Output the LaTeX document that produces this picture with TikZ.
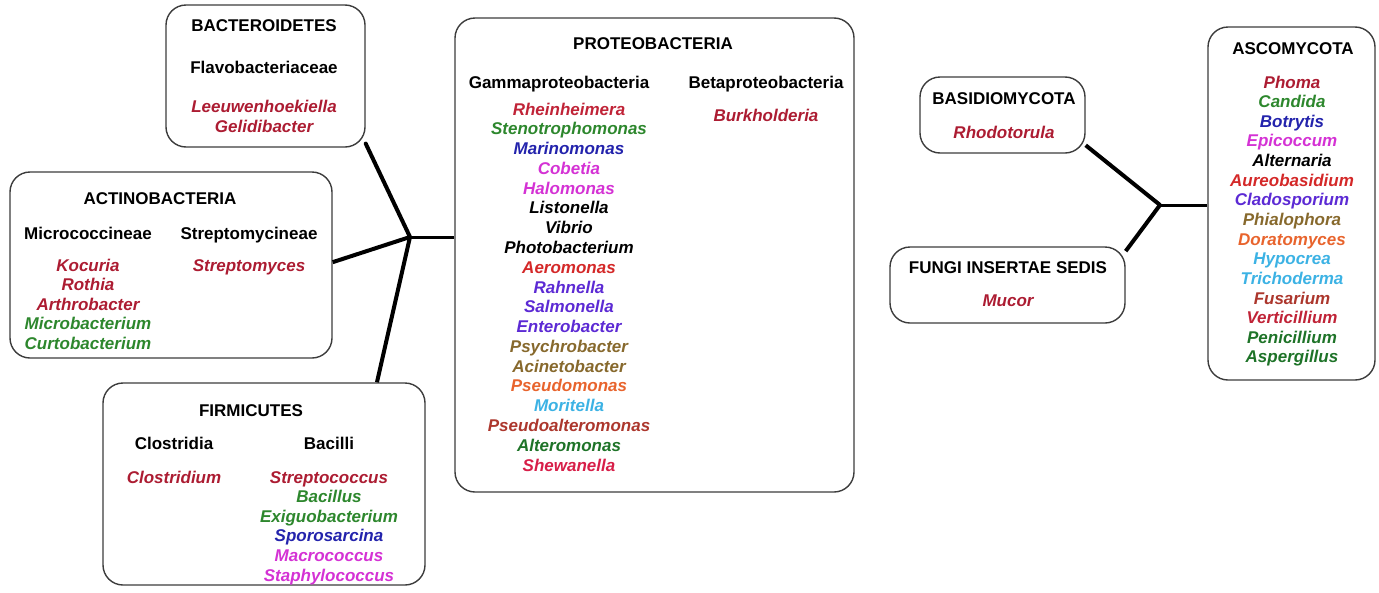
\documentclass[tikz,border=0pt]{standalone}
\usepackage{fontspec}
\setmainfont{Liberation Sans}
\usetikzlibrary{calc}
\definecolor{dred}{RGB}{172,28,50}
\definecolor{rhein}{RGB}{192,35,55}
\definecolor{rred}{RGB}{212,40,40}
\definecolor{crim}{RGB}{215,30,72}
\definecolor{brred}{RGB}{172,55,45}
\definecolor{gren}{RGB}{45,135,45}
\definecolor{dgren}{RGB}{30,115,40}
\definecolor{blu}{RGB}{35,35,172}
\definecolor{mag}{RGB}{212,50,212}
\definecolor{vio}{RGB}{92,42,212}
\definecolor{oliv}{RGB}{135,105,45}
\definecolor{orng}{RGB}{232,100,45}
\definecolor{cyn}{RGB}{60,178,228}
\definecolor{boxline}{RGB}{60,60,60}
\tikzset{
  box/.style={draw=boxline, line width=1.4pt, rounded corners=20pt, inner sep=0pt},
  head/.style={font=\fontsize{17}{20}\selectfont\bfseries, anchor=base, inner sep=0pt, text=black},
  gen/.style={font=\fontsize{17}{20}\selectfont\bfseries\itshape, anchor=base, inner sep=0pt},
  conn/.style={line width=4pt, black},
  hconn/.style={line width=3pt, black}
}
\begin{document}
\begin{tikzpicture}[x=1pt,y=-1pt]
\useasboundingbox (0,0) rectangle (1379,592);
% boxes
\node[box, minimum width=199pt, minimum height=142pt] (bact) at (265.5,76) {};
\node[box, minimum width=322pt, minimum height=186pt] (actino) at (171,265) {};
\node[box, minimum width=322pt, minimum height=202pt] (firm) at (264,484) {};
\node[box, minimum width=399pt, minimum height=474pt] (proteo) at (654.5,255) {};
\node[box, minimum width=165pt, minimum height=76pt] (basid) at (1002.5,115) {};
\node[box, minimum width=235pt, minimum height=76pt] (fungi) at (1007.5,285) {};
\node[box, minimum width=167pt, minimum height=353pt] (asco) at (1291.5,203.5) {};
% hubs and connectors
\coordinate (hubL) at (410,237);
\coordinate (hubR) at (1160,205);
\draw[conn, line cap=round] (hubL) -- (bact.-34.1);
\draw[conn] (hubL) -- (actino.1.8);
\draw[conn] (hubL) -- (firm.42.3);
\draw[hconn] (hubL) -- (hubL -| proteo.west);
\draw[conn] (hubR) -- (basid.-20.4);
\draw[conn] (hubR) -- (fungi.16.1);
\draw[hconn] (hubR) -- (hubR -| asco.west);
% Bacteroidetes
\node[head] (bactT) at (264,31) {BACTEROIDETES};
\node[head] (flavo) at (264,73) {Flavobacteriaceae};
\node[gen, text=dred] (leeu) at (264,112) {Leeuwenhoekiella};
\node[gen, text=dred] (geli) at (264,132) {Gelidibacter};
% Actinobacteria
\node[head] (actT) at (160,204) {ACTINOBACTERIA};
\node[head] (micro) at (88,239) {Micrococcineae};
\node[head] (strep) at (249,239) {Streptomycineae};
\foreach \t/\c [count=\i] in {Kocuria/dred, Rothia/dred, Arthrobacter/dred, Microbacterium/gren, Curtobacterium/gren}
  \node[gen, text=\c] (mic\i) at (88,{271+19.5*(\i-1)}) {\t};
\node[gen, text=dred] (strepg) at (249,271) {Streptomyces};
% Firmicutes
\node[head] (firmT) at (251,416) {FIRMICUTES};
\node[head] (clos) at (174,449) {Clostridia};
\node[head] (baci) at (329,449) {Bacilli};
\node[gen, text=dred] (closg) at (174,483) {Clostridium};
\foreach \t/\c [count=\i] in {Streptococcus/dred, Bacillus/gren, Exiguobacterium/gren, Sporosarcina/blu, Macrococcus/mag, Staphylococcus/mag}
  \node[gen, text=\c] (bac\i) at (329,{483+19.6*(\i-1)}) {\t};
% Proteobacteria
\node[head] (proT) at (653,49) {PROTEOBACTERIA};
\node[head] (gamma) at (559,88) {Gammaproteobacteria};
\node[head] (beta) at (766,88) {Betaproteobacteria};
\foreach \t/\c [count=\i] in {Rheinheimera/rhein, Stenotrophomonas/gren, Marinomonas/blu, Cobetia/mag, Halomonas/mag, Listonella/black, Vibrio/black, Photobacterium/black, Aeromonas/rred, Rahnella/vio, Salmonella/vio, Enterobacter/vio, Psychrobacter/oliv, Acinetobacter/oliv, Pseudomonas/orng, Moritella/cyn, Pseudoalteromonas/brred, Alteromonas/dgren, Shewanella/crim}
  \node[gen, text=\c] (gam\i) at (569,{115+19.78*(\i-1)}) {\t};
\node[gen, text=dred] (burk) at (766,121) {Burkholderia};
% Basidiomycota
\node[head] (basT) at (1004,104) {BASIDIOMYCOTA};
\node[gen, text=dred] (rhodo) at (1004,138) {Rhodotorula};
% Fungi insertae sedis
\node[head] (funT) at (1008,273) {FUNGI INSERTAE SEDIS};
\node[gen, text=dred] (mucor) at (1008,306) {Mucor};
% Ascomycota
\node[head] (ascT) at (1293,54) {ASCOMYCOTA};
\foreach \t/\c [count=\i] in {Phoma/dred, Candida/gren, Botrytis/blu, Epicoccum/mag, Alternaria/black, Aureobasidium/rred, Cladosporium/vio, Phialophora/oliv, Doratomyces/orng, Hypocrea/cyn, Trichoderma/cyn, Fusarium/brred, Verticillium/rhein, Penicillium/dgren, Aspergillus/dgren}
  \node[gen, text=\c] (asc\i) at (1292,{88+19.64*(\i-1)}) {\t};
\end{tikzpicture}
\end{document}
